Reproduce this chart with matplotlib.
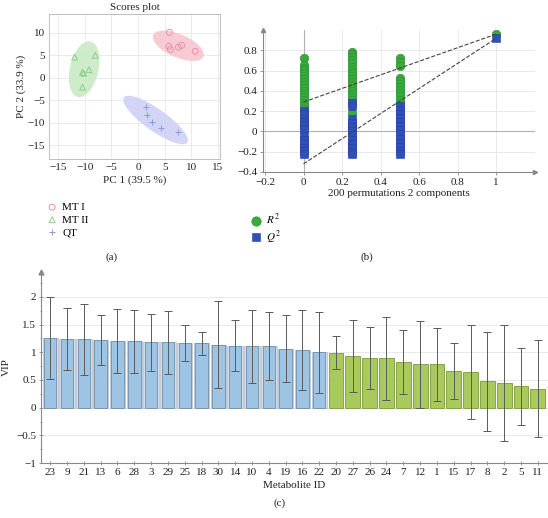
"""PCA scores, permutation test and VIP bar chart (three panels)."""

import matplotlib

matplotlib.use("Agg")
import matplotlib.pyplot as plt
from matplotlib.patches import Ellipse

plt.rcParams["font.family"] = ["Liberation Serif", "DejaVu Serif"]
plt.rcParams["mathtext.fontset"] = "stix"
plt.rcParams["axes.unicode_minus"] = True

# --- (a) scores plot -------------------------------------------------------
mt1_pc1 = [5.9, 5.8, 6.1, 7.6, 8.2, 10.75]
mt1_pc2 = [10.1, 7.0, 6.3, 6.8, 7.2, 5.9]
mt2_pc1 = [-11.9, -8.0, -10.4, -10.2, -9.2, -10.4]
mt2_pc2 = [4.6, 5.0, 1.2, 1.0, 1.8, -2.1]
qt_pc1 = [1.6, 1.7, 2.7, 4.3, 7.6]
qt_pc2 = [-6.6, -8.4, -9.8, -11.1, -12.1]
# confidence ellipses: centre x, centre y, width, height, angle
ellipse_mt1 = (7.6, 7.1, 10.6, 5.0, -29)
ellipse_mt2 = (-10.1, 1.9, 12.6, 5.4, 80)
ellipse_qt = (3.3, -9.4, 15.6, 4.6, -41)

# --- (b) permutation test --------------------------------------------------
perm_r2 = {
    0.0: [0.72, 0.66, 0.63, 0.61, 0.58, 0.55, 0.52, 0.49, 0.46, 0.43, 0.40,
          0.37, 0.34, 0.31, 0.28, 0.25, 0.22, 0.14, 0.10, 0.06, 0.03],
    0.25: [0.78, 0.76, 0.73, 0.70, 0.67, 0.64, 0.61, 0.58, 0.55, 0.52, 0.49,
           0.46, 0.43, 0.40, 0.37, 0.34, 0.31, 0.18, 0.06, 0.03],
    0.5: [0.72, 0.68, 0.65, 0.53, 0.50, 0.47, 0.44, 0.41, 0.38, 0.35, 0.31,
          0.28],
    1.0: [0.96],
}
perm_q2 = {
    0.0: [0.20, 0.17, 0.09, 0.06, 0.02, -0.05, -0.08, -0.12, -0.16, -0.19,
          -0.22],
    0.25: [0.28, 0.25, 0.12, 0.08, 0.04, 0.0, -0.04, -0.08, -0.12, -0.16,
           -0.20, -0.22],
    0.5: [0.25, 0.21, 0.17, 0.13, 0.09, 0.05, 0.01, -0.03, -0.07, -0.11,
          -0.15, -0.19, -0.22],
    1.0: [0.92],
}
r2_intercept = 0.29
q2_intercept = -0.32

# --- (c) VIP ---------------------------------------------------------------
metabolite_ids = ["23", "9", "21", "13", "6", "28", "3", "29", "25", "18",
                  "30", "14", "10", "4", "19", "16", "22", "20", "27", "26",
                  "24", "7", "12", "1", "15", "17", "8", "2", "5", "11"]
vip_values = [1.257, 1.24, 1.235, 1.22, 1.20, 1.20, 1.18, 1.18, 1.165, 1.165,
              1.14, 1.12, 1.11, 1.11, 1.065, 1.035, 1.0, 0.99, 0.93, 0.90,
              0.89, 0.82, 0.78, 0.78, 0.66, 0.64, 0.48, 0.445, 0.385, 0.34]
vip_errors = [0.74, 0.555, 0.645, 0.445, 0.575, 0.57, 0.51, 0.565, 0.32,
              0.205, 0.79, 0.46, 0.66, 0.61, 0.60, 0.72, 0.735, 0.295, 0.645,
              0.56, 0.745, 0.575, 0.785, 0.665, 0.51, 0.85, 0.895, 1.045,
              0.69, 0.875]
n_blue = 17

PINK, GREEN, BLUE = "#ee8fa3", "#8ccf8c", "#8f98e6"
TXT = "#222222"
GRID = "#e6e6e6"

fig = plt.figure(figsize=(5.48, 5.18), dpi=100)

# ---------------------------------------------------------------- panel a
ax_a = fig.add_axes([0.0894, 0.693, 0.312, 0.280])
for (cx, cy, w, h, ang), col in [(ellipse_mt1, "#f7c6d0"),
                                 (ellipse_mt2, "#c9eac4"),
                                 (ellipse_qt, "#cdd1f5")]:
    ax_a.add_patch(Ellipse((cx, cy), w, h, angle=ang, facecolor=col,
                           edgecolor="none", alpha=0.9, zorder=1))
h_mt1 = ax_a.scatter(mt1_pc1, mt1_pc2, marker="o", s=18, facecolors="none",
                     edgecolors=PINK, linewidths=0.7, zorder=3)
h_mt2 = ax_a.scatter(mt2_pc1, mt2_pc2, marker="^", s=18, facecolors="none",
                     edgecolors=GREEN, linewidths=0.7, zorder=3)
h_qt = ax_a.scatter(qt_pc1, qt_pc2, marker="+", s=24, color=BLUE,
                    linewidths=0.7, zorder=3)
ax_a.set_xlim(-16.7, 15.4)
ax_a.set_ylim(-18.1, 14.2)
ax_a.set_xticks(range(-15, 16, 5))
ax_a.set_yticks(range(-15, 11, 5))
ax_a.grid(color=GRID, linewidth=0.6, zorder=0)
ax_a.set_axisbelow(True)
for sp in ax_a.spines.values():
    sp.set_color("#bfbfbf")
    sp.set_linewidth(0.7)
ax_a.tick_params(labelsize=8, length=0, pad=3, colors=TXT)
ax_a.set_title("Scores plot", fontsize=8, pad=3, color=TXT)
ax_a.set_xlabel("PC 1 (39.5 %)", fontsize=8, labelpad=2, color=TXT)
ax_a.set_ylabel("PC 2 (33.9 %)", fontsize=8, labelpad=1, color=TXT)

fig.legend([h_mt1, h_mt2, h_qt], ["MT I", "MT II", "QT"],
           loc="upper left", bbox_to_anchor=(0.075, 0.618), frameon=False,
           fontsize=8, handletextpad=0.3, labelspacing=0.25,
           handlelength=1.2, borderaxespad=0)

# ---------------------------------------------------------------- panel b
ax_b = fig.add_axes([0.480, 0.668, 0.496, 0.274])
ax_b.axhline(0, color="#b0b0b0", linewidth=0.8, zorder=1)
ax_b.axvline(0, color="#b0b0b0", linewidth=0.8, zorder=1)
for x_pos, vals in perm_r2.items():
    h_r2 = ax_b.scatter([x_pos] * len(vals), vals, marker="o", s=38,
                        color="#3aaa3a", edgecolors="#2e8b2e",
                        linewidths=0.4, zorder=3)
for x_pos, vals in perm_q2.items():
    h_q2 = ax_b.scatter([x_pos] * len(vals), vals, marker="s", s=32,
                        color="#2f4fba", edgecolors="#243f96",
                        linewidths=0.4, zorder=4)
ax_b.plot([0, 1], [r2_intercept, perm_r2[1.0][0]], ls="--", color="#444444",
          lw=0.8, zorder=5)
ax_b.plot([0, 1], [q2_intercept, perm_q2[1.0][0]], ls="--", color="#444444",
          lw=0.8, zorder=5)
ax_b.set_xlim(-0.21, 1.2)
ax_b.set_ylim(-0.4, 1.0)
ax_b.set_xticks([-0.2, 0, 0.2, 0.4, 0.6, 0.8, 1])
ax_b.set_xticklabels(["\u22120.2", "0", "0.2", "0.4", "0.6", "0.8", "1"])
ax_b.set_yticks([-0.4, -0.2, 0, 0.2, 0.4, 0.6, 0.8])
ax_b.set_yticklabels(["\u22120.4", "\u22120.2", "0", "0.2", "0.4", "0.6",
                      "0.8"])
ax_b.grid(color=GRID, linewidth=0.6, zorder=0)
ax_b.set_axisbelow(True)
ax_b.spines["top"].set_visible(False)
ax_b.spines["right"].set_visible(False)
for sp in ("left", "bottom"):
    ax_b.spines[sp].set_color("#888888")
    ax_b.spines[sp].set_linewidth(0.8)
ax_b.tick_params(labelsize=8, length=2, width=0.6, color="#888888",
                 colors=TXT, pad=2)
ax_b.plot(1, 0, ">", transform=ax_b.transAxes, color="#888888", ms=3,
          clip_on=False)
ax_b.plot(0, 1, "^", transform=ax_b.transAxes, color="#888888", ms=3,
          clip_on=False)
ax_b.set_xlabel("200 permutations 2 components", fontsize=8, labelpad=2,
                color=TXT)

fig.legend([h_r2, h_q2], ["$R^2$", "$Q^2$"], loc="upper left",
           bbox_to_anchor=(0.449, 0.6), frameon=False, fontsize=8,
           handletextpad=0.4, labelspacing=0.15, handlelength=1.0,
           borderaxespad=0, markerscale=1.1)

fig.text(0.204, 0.504, "(a)", fontsize=8, ha="center", va="center",
         color=TXT)
fig.text(0.670, 0.504, "(b)", fontsize=8, ha="center", va="center",
         color=TXT)

# ---------------------------------------------------------------- panel c
ax_c = fig.add_axes([0.0748, 0.106, 0.925, 0.369])
pos = list(range(len(metabolite_ids)))
blue_pos = pos[:n_blue]
green_pos = pos[n_blue:]
ax_c.bar(blue_pos, vip_values[:n_blue], width=0.92, color="#d8dde3",
         edgecolor="#b5bdc6", linewidth=0.5, zorder=2)
ax_c.bar(blue_pos, vip_values[:n_blue], width=0.74, color="#9ec4e4",
         edgecolor="#6f8fae", linewidth=0.6, zorder=3)
ax_c.bar(green_pos, vip_values[n_blue:], width=0.88, color="#a8c95c",
         edgecolor="#7a9a3c", linewidth=0.6, zorder=3)
ax_c.errorbar(pos, vip_values, yerr=vip_errors, fmt="none",
              ecolor="#5a5a5a", elinewidth=0.7, capsize=3, capthick=0.7,
              zorder=4)
ax_c.set_xlim(-0.55, 29.6)
ax_c.set_ylim(-1, 2.45)
ax_c.set_xticks(pos)
ax_c.set_xticklabels(metabolite_ids)
ax_c.set_yticks([-1, -0.5, 0, 0.5, 1, 1.5, 2])
ax_c.set_yticklabels(["\u22121", "\u22120.5", "0", "0.5", "1", "1.5", "2"])
ax_c.set_yticks([-0.75, -0.25, 0.25, 0.75, 1.25, 1.75, 2.25], minor=True)
ax_c.grid(axis="y", color=GRID, linewidth=0.6, zorder=0)
ax_c.set_axisbelow(True)
ax_c.spines["top"].set_visible(False)
ax_c.spines["right"].set_visible(False)
for sp in ("left", "bottom"):
    ax_c.spines[sp].set_color("#888888")
    ax_c.spines[sp].set_linewidth(0.8)
ax_c.tick_params(labelsize=8, length=3, width=0.6, color="#888888",
                 colors=TXT, pad=2, direction="inout")
ax_c.tick_params(which="minor", length=2, width=0.5, color="#888888",
                 direction="inout")
ax_c.plot(0, 1, "^", transform=ax_c.transAxes, color="#888888", ms=3.5,
          clip_on=False)
ax_c.set_ylabel("VIP", fontsize=8, labelpad=4, color=TXT)
ax_c.set_xlabel("Metabolite ID", fontsize=8, labelpad=3, color=TXT)
fig.text(0.511, 0.029, "(c)", fontsize=8, ha="center", va="center",
         color=TXT)

fig.savefig("out.png", dpi=100)
plt.close(fig)
